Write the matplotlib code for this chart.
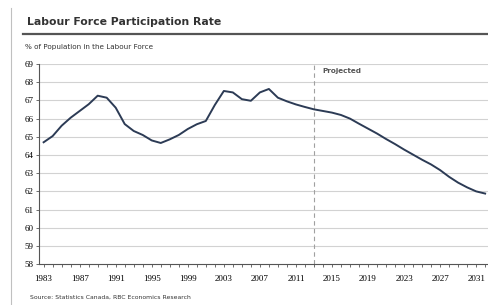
import numpy as np
import matplotlib.pyplot as plt
from matplotlib.lines import Line2D

years = list(range(1983, 2033))
rate = [64.70, 65.04, 65.61, 66.05, 66.42, 66.79, 67.26, 67.15, 66.60, 65.70,
        65.32, 65.10, 64.80, 64.66, 64.86, 65.10, 65.43, 65.69, 65.87, 66.75,
        67.52, 67.44, 67.07, 66.98, 67.44, 67.63, 67.15, 66.95, 66.78, 66.64,
        66.51, 66.42, 66.33, 66.20, 66.00, 65.72, 65.45, 65.18, 64.88, 64.60,
        64.30, 64.02, 63.74, 63.48, 63.17, 62.80, 62.48, 62.22, 62.00, 61.88]
year_labels = [str(y) for y in range(1983, 2032, 4)]
y_ticks = list(range(58, 70))
projection_start = 2013

fig = plt.figure(figsize=(4.89, 3.05), dpi=100)
ax = fig.add_axes([0.080, 0.134, 0.925, 0.656])

# gridlines
for v in y_ticks[1:]:
    ax.axhline(v, color="#d2d2d2", linewidth=0.8, zorder=1)

ax.plot(years, rate, color="#2c3b55", linewidth=1.4, zorder=3)
ax.axvline(projection_start, color="#a0a0a0", linestyle=(0, (4, 3)), linewidth=0.8, zorder=2)
ax.text(projection_start + 0.9, 68.6, "Projected", fontsize=5.2, color="#555555",
        fontweight="bold", va="center", ha="left")

ax.set_xlim(1982.5, 2032.7)
ax.set_ylim(58, 69)
ax.set_yticks(y_ticks)
ax.set_yticklabels([str(v) for v in y_ticks], fontsize=6.5, family="Liberation Serif")
ax.set_xticks(list(range(1983, 2033)), minor=True)
ax.set_xticks(list(range(1983, 2032, 4)))
ax.set_xticklabels(year_labels, fontsize=6.5, family="Liberation Serif")
ax.tick_params(axis="x", which="both", length=2.5, width=0.6, color="#555555", pad=5)
ax.tick_params(axis="y", length=2.5, width=0.6, color="#555555", pad=1.5)

for s in ["top", "right"]:
    ax.spines[s].set_visible(False)
for s in ["left", "bottom"]:
    ax.spines[s].set_color("#555555")
    ax.spines[s].set_linewidth(0.8)

fig.text(0.055, 0.928, "Labour Force Participation Rate", fontsize=7.8, fontweight="bold",
         color="#333333", va="center")
fig.add_artist(Line2D([0.047, 1.0], [0.888, 0.888], color="#555555", linewidth=1.6))
fig.text(0.051, 0.846, "% of Population in the Labour Force", fontsize=5.2,
         color="#333333", va="center")
fig.text(0.061, 0.026, "Source: Statistics Canada, RBC Economics Research", fontsize=4.4,
         color="#333333", va="center")
fig.add_artist(Line2D([0.022, 0.022], [0.0, 0.975], color="#c0c0c0", linewidth=0.8))

fig.savefig("out.png", dpi=100)
